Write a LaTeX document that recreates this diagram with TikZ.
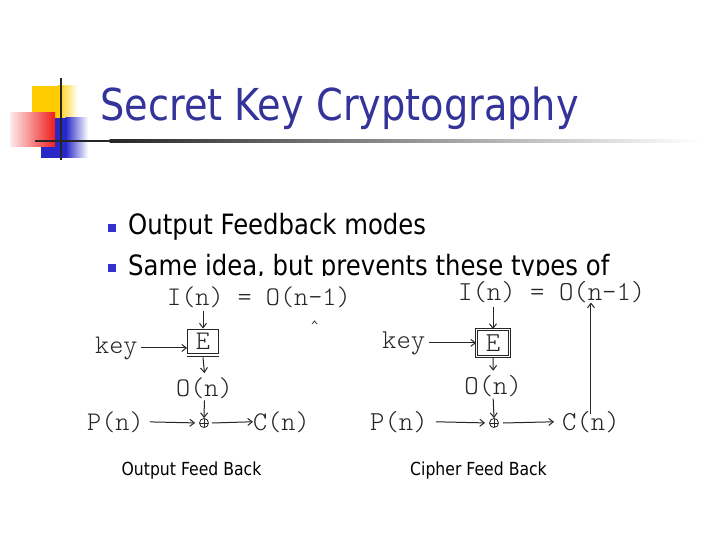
\documentclass[tikz,border=0pt]{standalone}
\usepackage{fontspec}
\setmainfont{DejaVu Sans}[FakeStretch=0.87]
\newfontfamily\monofnt{lmmonolt10-regular.otf}
\usetikzlibrary{arrows.meta}
\definecolor{titleblue}{RGB}{51,51,153}
\definecolor{bulblue}{RGB}{51,51,204}
\definecolor{decoyel}{RGB}{255,204,0}
\definecolor{decored}{RGB}{238,30,30}
\definecolor{decoblue}{RGB}{40,40,200}
\begin{document}
\begin{tikzpicture}[x=1pt,y=-1pt,
  mtxt/.style={font=\monofnt\fontsize{26.9}{28}\selectfont, inner sep=0, anchor=base west, text=black!85},
  mtxtr/.style={font=\monofnt\fontsize{27.4}{28}\selectfont, inner sep=0, anchor=base west, text=black!85},
  arr/.style={-{Straight Barb[length=4.5pt,width=7pt,line width=1pt]}, line width=1pt, black!85},
  ebox/.style={draw=black!85, line width=0.9pt, inner sep=0, text=black!85},
  oplus/.style={circle, draw=black!85, line width=0.8pt, minimum size=9pt, inner sep=0,
    path picture={\draw[line width=0.8pt] (path picture bounding box.north) -- (path picture bounding box.south)
      (path picture bounding box.west) -- (path picture bounding box.east);}},
  bullet/.style={fill=bulblue, minimum size=8pt, inner sep=0},
  btext/.style={anchor=base west, inner sep=0, font=\fontsize{28}{32}\selectfont},
  caption/.style={inner sep=0, font=\fontsize{18}{20}\selectfont}]
\useasboundingbox (0,0) rectangle (720,540);
\fill[white] (0,0) rectangle (720,540);

% title decoration
\fill[decoyel] (32,86) rectangle (58,118);
\shade[left color=decoyel, right color=white] (57.5,86) rectangle (78,118);
\fill[decoblue] (41,118) rectangle (66,158);
\shade[left color=decoblue, right color=white] (65.5,118) rectangle (88,158);
\shade[left color=red!8, right color=decored] (10,113) rectangle (55,147);
\fill[black!85] (35,140) rectangle (110,142.5);
\shade[left color=black!85, right color=white] (109.5,140) rectangle (700,142.5);
\draw[line width=1.6pt, black!85] (61,78) -- (61,160);

% title
\node[anchor=base west, inner sep=0, text=titleblue, font=\fontsize{44}{50}\selectfont] (title) at (100,121) {Secret Key Cryptography};

% bullets
\node[bullet] (b1) at (112,228) {};
\node[btext] (t1) at (128,235) {Output Feedback modes};
\node[bullet] (b2) at (112,268) {};
\node[btext] (t2) at (128,275) {Same idea, but prevents these types of};
\fill[white] (90,276) rectangle (700,445);

% left diagram: Output Feed Back
\node[mtxt] (iL) at (167,305) {I(n)};
\node[mtxt] (eqL) at (237.5,305) {=};
\node[mtxt] (oL1) at (265.7,305) {O(n-1)};
\node[ebox, minimum width=31pt, minimum height=24pt] (EL) at (203,341) {\monofnt\fontsize{26.9}{28}\selectfont E};
\draw[line width=0.9pt, black!85] ([yshift=-3pt]EL.south west) -- ([yshift=-3pt]EL.south east);
\node[mtxt] (keyL) at (95,353) {key};
\node[mtxt] (oL) at (176,396) {O(n)};
\node[oplus] (xL) at (204,423) {};
\node[mtxt] (pL) at (87,430) {P(n)};
\node[mtxt] (cL) at (253,430) {C(n)};
\draw[line width=0.7pt, black!85] (312,324) -- (314.5,321) -- (317,324);
\draw[arr] (EL.north |- iL.south) ++(0,4) -- (EL.north);
\draw[arr] ([xshift=3pt]keyL.east) -- (keyL.east -| EL.west);
\draw[arr] ([yshift=-4pt]EL.south) -- ([yshift=4pt]oL.north);
\draw[arr] (oL.south) ++(0,2) -- (xL.north);
\draw[arr, shorten <=6pt, shorten >=4pt] (pL.east) -- (xL.west);
\draw[arr] ([xshift=3pt]xL.east) -- (cL.west);

% right diagram: Cipher Feed Back
\node[mtxtr] (iR) at (458,300) {I(n)};
\node[mtxtr] (eqR) at (530,300) {=};
\node[mtxtr] (oR1) at (558.8,300) {O(n-1)};
\node[ebox, double, double distance=1.6pt, minimum width=33pt, minimum height=27pt] (ER) at (493,343) {\monofnt\fontsize{27.4}{28}\selectfont E};
\node[mtxtr] (keyR) at (382,348) {key};
\node[mtxtr] (oR) at (464.2,394) {O(n)};
\node[oplus] (xR) at (494,423) {};
\node[mtxtr] (pR) at (370,430) {P(n)};
\node[mtxtr] (cR) at (562,430) {C(n)};
\draw[arr] (ER.north |- iR.south) ++(0,4) -- (ER.north);
\draw[arr] ([xshift=3pt]keyR.east) -- (keyR.east -| ER.west);
\draw[arr] ([yshift=-1pt]ER.south) -- ([yshift=4pt]oR.north);
\draw[arr] (oR.south) ++(0,2) -- (xR.north);
\draw[arr, shorten <=8pt, shorten >=4pt] (pR.east) -- (xR.west);
\draw[arr, shorten >=8pt] ([xshift=4pt]xR.east) -- (cR.west);
\draw[arr] ([yshift=-3pt]cR.north) -- (cR.north |- oR1.south);

% captions
\node[caption] (capL) at (191.5,471) {Output Feed Back};
\node[caption] (capR) at (478.5,471) {Cipher Feed Back};
\end{tikzpicture}
\end{document}
